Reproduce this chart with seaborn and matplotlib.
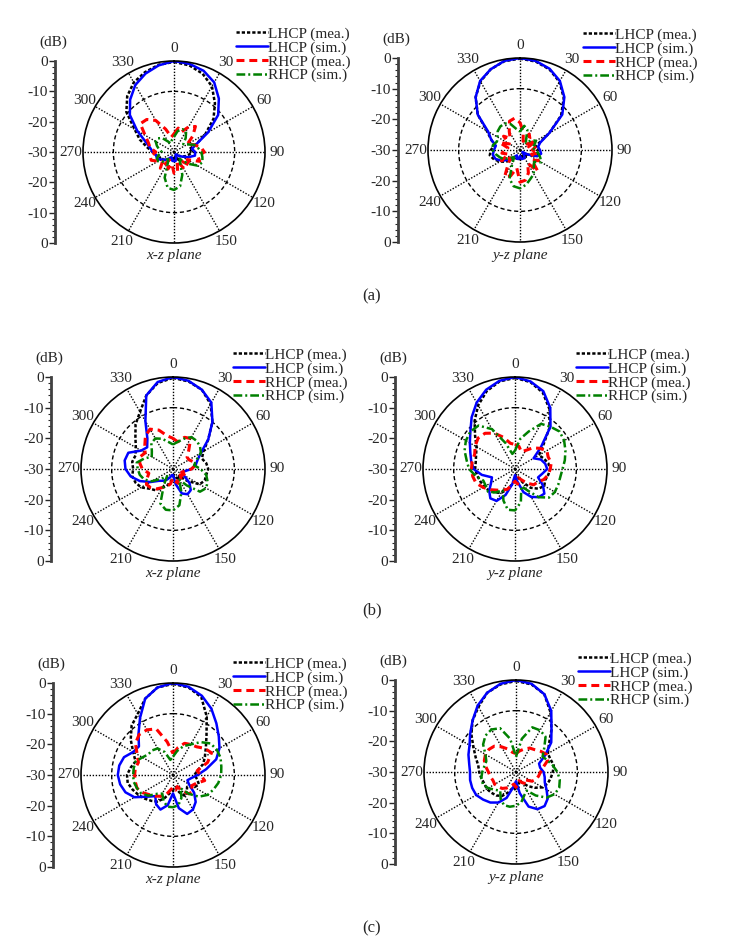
import numpy as np
import pandas as pd
import seaborn as sns
import matplotlib.pyplot as plt
from matplotlib.lines import Line2D

# angles in degrees (0 at top, clockwise), gain in dB
angles = list(range(0, 360, 10))
angle_labels = ["0", "30", "60", "90", "120", "150", "", "210", "240", "270", "300", "330"]

# (a) x-z plane
a_xz_lhcp_mea = [-0.3, -1, -2.5, -5, -9, -13, -18, -22, -25, -24, -25, -26, -27, -28, -28, -27, -28, -28,
                 -28, -27, -28, -27, -26, -26, -25, -25, -24, -23, -21, -18, -15, -9.5, -6, -3.5, -2, -0.8]
a_xz_lhcp_sim = [0, -0.5, -1.5, -3.5, -7, -11, -17, -22, -24, -23, -23, -25, -27, -28, -29, -29, -28, -27,
                 -27, -27, -28, -28, -27, -26, -25, -24, -24, -23, -22, -20, -16, -11, -7.5, -4.5, -2.5, -1]
a_xz_rhcp_mea = [-24, -22, -23, -20.5, -19, -22, -25, -23, -21, -20, -22, -21, -25, -23, -26, -24, -27, -23,
                 -23, -26, -24, -27, -23, -25, -24, -22, -22, -24, -22, -21, -19, -15.5, -16, -18, -22, -25]
a_xz_rhcp_sim = [-25, -23, -22, -22, -24, -26, -25, -23, -22, -21, -20.5, -20, -21, -24, -27, -26, -22, -18.5,
                 -17.5, -18, -21, -26, -27, -25, -24, -24, -25, -26, -25, -24, -23, -23, -24, -26, -27, -26]

# (a) y-z plane
a_yz_lhcp_mea = [-0.2, -0.7, -2, -4.3, -7.8, -12.5, -19, -23.5, -25, -24, -23.5, -25, -27, -28, -27, -28, -27, -28,
                 -27, -28, -27, -27, -26, -24, -22.5, -21, -20, -20.5, -21.5, -20, -17.5, -12, -7.5, -4.2, -2, -0.6]
a_yz_lhcp_sim = [0, -0.5, -1.8, -4, -7.5, -12, -19, -23, -24, -23.5, -23, -24, -27, -29, -28, -27, -27, -27,
                 -28, -27, -27, -28, -27, -25, -23, -21.5, -21, -21.5, -22, -20, -18, -12, -7.5, -4, -2, -0.5]
a_yz_rhcp_mea = [-21, -24, -27, -24, -25, -27, -24, -27, -25, -26, -24, -26, -23, -25, -21, -25, -22, -20,
                 -19.5, -24, -21, -20, -24, -26, -23, -26, -24, -25, -26, -23, -26, -23, -25, -23, -20, -19.5]
a_yz_rhcp_sim = [-24, -22, -23, -26, -27, -25, -24, -25, -26, -25, -24, -23, -22, -24, -23, -21, -20, -18.5,
                 -17.5, -18, -20, -25, -27, -26, -24, -23, -22, -21, -21, -22, -21.5, -20.5, -20, -20, -21, -23]

# (b) x-z plane
b_xz_lhcp_mea = [-0.3, -1, -2.5, -5.5, -10, -15, -18.5, -20, -19, -18.5, -19, -19, -20, -24, -27, -26, -27, -28,
                 -27, -26, -24, -23, -21, -20, -18, -17, -16.5, -17, -16.5, -17, -16, -14, -11, -8.5, -4.5, -1.5]
b_xz_lhcp_sim = [0, -0.8, -2.5, -5, -10, -15, -19.5, -21.5, -22.5, -24, -26, -27, -26, -23, -21, -20.5, -21.5, -25,
                 -28, -28, -27, -26, -25, -24, -21.5, -18.5, -16, -14.5, -14, -14.5, -18, -19, -17, -12, -4.5, -1.2]
b_xz_rhcp_mea = [-20, -21, -19, -18.5, -22, -24, -24, -23, -22.5, -24, -26, -27, -25, -27, -26, -27, -25, -26,
                 -27, -25, -24, -23, -21.5, -20.5, -20, -21, -22, -20, -19, -18.5, -19.5, -18, -16, -15, -16.5, -19]
b_xz_rhcp_sim = [-22, -21, -19.5, -18, -18, -18.5, -19.5, -22, -23, -21, -19, -18, -17.5, -18.5, -23, -26, -22, -18,
                 -16.5, -16.5, -18, -24, -27, -25, -22, -20, -19, -18.5, -18, -20, -22, -21, -19, -18.5, -19.5, -21]

# (b) y-z plane
b_yz_lhcp_mea = [-0.3, -1.2, -3.5, -7.5, -12.5, -18, -21, -20, -19, -18.5, -19, -19.5, -19, -20, -22, -25, -27, -28,
                 -27, -25, -23, -21, -20, -19, -18.5, -18, -17.5, -17, -17, -16.5, -15.5, -13, -9.5, -6, -3, -1]
b_yz_lhcp_sim = [0, -1, -3, -7, -12, -19, -23, -21, -20, -19.5, -21, -22, -19.5, -17.5, -18, -19.5, -22, -26,
                 -28, -25, -21, -18, -17.5, -19, -21, -22, -19, -16.5, -15.5, -14.5, -13, -11, -8, -5, -2.5, -0.8]
b_yz_rhcp_mea = [-22, -22.5, -24, -23, -21, -19.5, -18, -18.5, -18, -18.5, -19, -20, -21.5, -22, -24, -26, -27, -25,
                 -26, -25, -23, -22, -21, -19.5, -18, -16.5, -16, -15.8, -15.8, -16, -15, -14.3, -14.8, -16.5, -19, -21.5]
b_yz_rhcp_sim = [-24, -20, -17, -13, -12, -11, -11.5, -12.5, -13.5, -14.5, -15, -15, -15, -15.5, -18, -22, -24, -19,
                 -16.5, -16.5, -19, -22, -20, -18.5, -19, -19, -17, -15, -14, -12.5, -11.5, -11, -11.5, -15, -21, -25]

# (c) x-z plane
c_xz_lhcp_mea = [-0.3, -1, -3, -8, -13, -16, -18, -19.5, -22, -23, -22, -21, -22, -24, -23, -22, -24, -26,
                 -25, -24, -22, -20, -19, -18, -17, -16, -15, -15, -16, -17, -15, -12, -9, -7, -3.5, -1]
c_xz_lhcp_sim = [0, -0.8, -2.5, -5, -8, -10.5, -12.5, -15, -19, -22, -24, -25, -24, -21, -18.5, -17, -16.5, -19,
                 -24, -20, -18, -19, -21, -19, -15.5, -13.5, -12.5, -12, -12.2, -13, -15, -15.5, -12.5, -8.5, -3.5, -1]
c_xz_rhcp_mea = [-23, -21, -19, -18.5, -18, -16.5, -15.5, -18, -22, -21, -19.5, -22, -23, -21.5, -22, -24, -26, -25,
                 -26, -25, -23, -22, -21, -20, -18.5, -17.5, -17.5, -17.5, -17.5, -18, -16.5, -14, -12.8, -13, -14, -19]
c_xz_rhcp_sim = [-24, -22, -20, -18.5, -16, -14, -13.5, -13.5, -14, -14.3, -15, -16, -17, -19, -22, -25, -22, -20,
                 -19.5, -19.5, -21, -23, -22, -19.5, -18, -17.5, -17, -17, -17, -17, -18.5, -19.5, -19.5, -20, -22, -25]

# (c) y-z plane
c_yz_lhcp_mea = [-0.3, -1, -3, -7.5, -12, -16, -18, -18, -17.5, -18, -18.5, -19, -20, -22, -24, -26, -27, -25,
                 -24, -25, -23, -21, -20, -19.5, -19, -19, -18.5, -18, -17.5, -16, -14, -11, -8, -5.5, -2.5, -1]
c_yz_lhcp_sim = [0, -0.8, -3, -7, -12, -15, -19, -22, -22, -21, -20.5, -20, -18.5, -16.5, -15.5, -16, -18, -23,
                 -27, -25, -21, -18.5, -17, -16, -15, -14.8, -14.8, -15, -14.5, -13.5, -12.5, -10.5, -8, -5, -2.5, -0.8]
c_yz_rhcp_mea = [-24, -23, -22, -21, -20.5, -19.5, -18.5, -19, -21, -22, -22.5, -23, -24, -26, -25, -26, -27, -26,
                 -25, -26, -25, -24, -23, -22.5, -22, -22, -21.5, -21, -20, -19, -18.5, -18.5, -19, -20.5, -22, -23.5]
c_yz_rhcp_sim = [-25, -19, -14.5, -14.3, -15, -18, -20, -19, -17.8, -16.5, -15.5, -15, -15.5, -17, -20, -23, -22, -20,
                 -19, -18.5, -18.5, -20, -22, -21, -19.5, -18.5, -18.5, -19, -19.5, -19.7, -18.5, -16, -14.5, -14, -14.8, -19]

series_names = ["LHCP (mea.)", "LHCP (sim.)", "RHCP (mea.)", "RHCP (sim.)"]
styles = {
    "LHCP (mea.)": dict(color="black", lw=1.8, ls=(0, (1.3, 0.8))),
    "LHCP (sim.)": dict(color="#0000ff", lw=1.8, ls="-"),
    "RHCP (mea.)": dict(color="#ff0000", lw=2.2, ls=(0, (2.6, 1.6))),
    "RHCP (sim.)": dict(color="#008000", lw=1.8, ls=(0, (3.5, 1.2, 0.8, 1.2))),
}

# panel: data, center (px), radius (px), side axis x, legend top-left, plane label
W, H = 748, 943
panels = [
    ([a_xz_lhcp_mea, a_xz_lhcp_sim, a_xz_rhcp_mea, a_xz_rhcp_sim], (174, 152), 91, 55, (236, 27), "x-z plane"),
    ([a_yz_lhcp_mea, a_yz_lhcp_sim, a_yz_rhcp_mea, a_yz_rhcp_sim], (520, 150), 92, 398, (583, 28), "y-z plane"),
    ([b_xz_lhcp_mea, b_xz_lhcp_sim, b_xz_rhcp_mea, b_xz_rhcp_sim], (173, 469), 92, 51, (233, 348), "x-z plane"),
    ([b_yz_lhcp_mea, b_yz_lhcp_sim, b_yz_rhcp_mea, b_yz_rhcp_sim], (515, 469), 92, 395, (576, 348), "y-z plane"),
    ([c_xz_lhcp_mea, c_xz_lhcp_sim, c_xz_rhcp_mea, c_xz_rhcp_sim], (173, 775), 92, 53, (233, 657), "x-z plane"),
    ([c_yz_lhcp_mea, c_yz_lhcp_sim, c_yz_rhcp_mea, c_yz_rhcp_sim], (516, 772), 92, 395, (578, 652), "y-z plane"),
]
captions = [("(a)", 296), ("(b)", 610), ("(c)", 928)]

sns.set_theme(style="white")
plt.rcParams["font.family"] = ["Liberation Serif", "DejaVu Serif"]

fig = plt.figure(figsize=(W / 100, H / 100), dpi=100)

for data, (cx, cy), R, side_x, (lx, ly), plane in panels:
    ax = fig.add_axes([(cx - R) / W, 1 - (cy + R) / H, 2 * R / W, 2 * R / H], projection="polar")
    ax.set_theta_zero_location("N")
    ax.set_theta_direction(-1)
    theta = np.deg2rad(angles + [360])
    for name, vals in zip(series_names, data):
        df = pd.DataFrame({"theta": theta, "gain": vals + [vals[0]]})
        st = styles[name]
        sns.lineplot(data=df, x="theta", y="gain", ax=ax, sort=False, estimator=None,
                     color=st["color"], linewidth=st["lw"], linestyle=st["ls"], legend=False)
    ax.set_ylim(-30, 0)
    ax.set_yticks([-10])
    ax.set_yticklabels([])
    ax.set_thetagrids(range(0, 360, 30), angle_labels, fontsize=11)
    ax.tick_params(axis="x", pad=-4)
    ax.xaxis.grid(True, color="black", lw=1.0, linestyle=(0, (1, 1.2)))
    ax.yaxis.grid(True, color="black", lw=1.0, linestyle=(0, (3, 2)))
    ax.spines["polar"].set_color("black")
    ax.spines["polar"].set_linewidth(1.2)
    ax.set_xlabel("")
    ax.set_ylabel("")
    ax.set_facecolor("none")

    # side dB scale
    sx = fig.add_axes([side_x / W, 1 - (cy + R) / H, 0.0001, 2 * R / H])
    sx.set_ylim(-30, 30)
    sx.set_xticks([])
    for s in ["top", "right", "bottom"]:
        sx.spines[s].set_visible(False)
    sx.spines["left"].set_color("#404040")
    sx.spines["left"].set_linewidth(2)
    sx.set_yticks(range(-30, 31, 10))
    sx.set_yticklabels(["0", "-10", "-20", "-30", "-20", "-10", "0"], fontsize=11)
    sx.set_yticks(range(-30, 31, 2), minor=True)
    sx.tick_params(axis="y", which="major", length=4, width=1, pad=1, left=True)
    sx.tick_params(axis="y", which="minor", length=2, width=0.8, left=True)
    sx.set_facecolor("none")
    fig.text((side_x - 2) / W, 1 - (cy - R - 19) / H, "(dB)", ha="center", va="center", fontsize=11)

    fig.text(cx / W, 1 - (cy + R + 13) / H, plane, ha="center", va="center",
             fontsize=11, style="italic")

    handles = [Line2D([0], [0], color=styles[n]["color"], lw=styles[n]["lw"], ls=styles[n]["ls"])
               for n in series_names]
    fig.legend(handles, series_names, loc="upper left", bbox_to_anchor=(lx / W, 1 - ly / H),
               frameon=False, fontsize=11, handlelength=2.1, handletextpad=0.0,
               labelspacing=0.0, borderpad=0, borderaxespad=0)

for txt, y in captions:
    fig.text(372 / W, 1 - y / H, txt, ha="center", va="center", fontsize=12)

fig.savefig("out.png", dpi=100)
